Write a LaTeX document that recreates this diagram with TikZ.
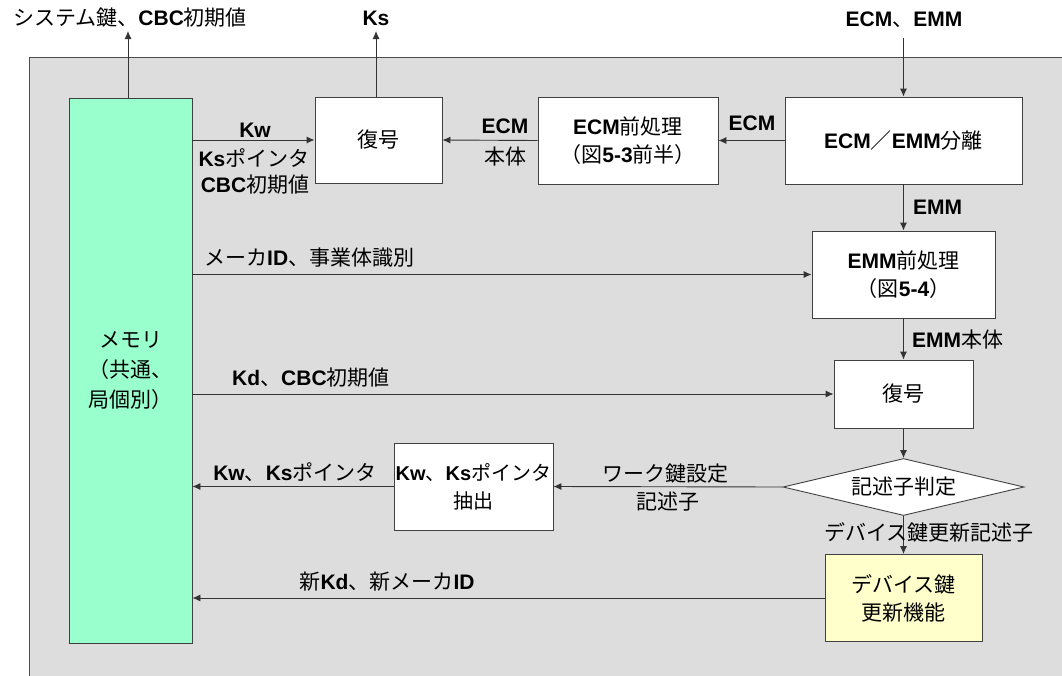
\documentclass[tikz,border=0pt]{standalone}
\usepackage{fontspec}
\setmainfont{Liberation Sans}
\newfontfamily\jpfont{Noto Sans CJK JP}
\usetikzlibrary{arrows.meta,shapes.geometric}
\newcommand\J[1]{{\jpfont\mdseries #1}}
\definecolor{bggray}{HTML}{DDDDDD}
\definecolor{memgreen}{HTML}{99FFCC}
\definecolor{devyellow}{HTML}{FFFFCC}
\begin{document}
\begin{tikzpicture}[x=1pt,y=-1pt,
  every node/.style={font=\fontsize{21}{28}\selectfont\bfseries},
  box/.style={draw=black!75, fill=white, line width=0.9pt, align=center, inner sep=0pt},
  ln/.style={draw=black!80, line width=0.9pt},
  arr/.style={ln, -{Latex[length=8pt,width=7pt]}},
  lbl/.style={inner sep=0pt, align=center}]
\useasboundingbox (0,0) rectangle (1062,675);
\begin{scope}
\clip (0,0) rectangle (1062,675);
\draw[fill=bggray, draw=black!70, line width=0.9pt] (29,57) rectangle (1080,700);
\end{scope}
% boxes
\node[box, fill=memgreen, minimum width=123pt, minimum height=545pt, font=\fontsize{21}{30}\selectfont] (mem) at (130.5,370.5) {\J{メモリ}\\\J{（共通、}\\\J{局個別）}};
\node[box, minimum width=127pt, minimum height=86pt] (dec1) at (378.5,140) {\J{復号}};
\node[box, minimum width=180pt, minimum height=87pt] (ecmpre) at (628,140.5) {ECM\J{前処理}\\\J{（図}5-3\J{前半）}};
\node[box, minimum width=237pt, minimum height=87pt] (sep) at (903.5,140.5) {ECM\J{／}EMM\J{分離}};
\node[box, minimum width=183pt, minimum height=87pt] (emmpre) at (903.5,274.5) {EMM\J{前処理}\\\J{（図}5-4\J{）}};
\node[box, minimum width=139pt, minimum height=68pt] (dec2) at (903.5,394) {\J{復号}};
\node[diamond, aspect=4.2, draw=black!75, fill=white, line width=0.9pt, minimum width=241pt, minimum height=57pt, inner sep=0pt] (judge) at (903.5,487) {\J{記述子判定}};
\node[box, minimum width=159pt, minimum height=87pt, font=\fontsize{20}{28}\selectfont\bfseries] (kwext) at (473.5,486.5) {Kw\J{、}Ks\J{ポインタ}\\\J{抽出}};
\node[box, fill=devyellow, minimum width=157pt, minimum height=87pt] (dev) at (903.5,598) {\J{デバイス鍵}\\\J{更新機能}};
% top outputs / input
\coordinate (sysout) at (128,31);
\draw[arr] (mem.north -| sysout) -- (sysout);
\node[lbl] (syslbl) at (130,18) {\J{システム鍵、}CBC\J{初期値}};
\coordinate (ksout) at (376,31);
\draw[arr] (dec1.north -| ksout) -- (ksout);
\node[lbl] (kslbl) at (376,18) {Ks};
\node[lbl] (inlbl) at (904,20) {ECM\J{、}EMM};
\coordinate (in) at (903.5,38);
\draw[arr] (in) -- (sep.north);
% ECM path
\draw[arr] (sep.west) -- (ecmpre.east);
\node[lbl] (l1) at (752,123) {ECM};
\draw[arr] (ecmpre.west) -- (dec1.east);
\node[lbl] (l2) at (505,126) {ECM};
\node[lbl] (l3) at (505,157) {\J{本体}};
\draw[arr] (mem.east |- dec1.west) -- (dec1.west);
\node[lbl] (l4) at (255,130) {Kw};
\node[lbl] (l5) at (254,158) {Ks\J{ポインタ}};
\node[lbl] (l6) at (255,185) {CBC\J{初期値}};
% EMM path
\draw[arr] (sep.south) -- (emmpre.north);
\node[lbl, anchor=west] (l7) at (913,207) {EMM};
\draw[arr] (mem.east |- emmpre.west) -- (emmpre.west);
\node[lbl, anchor=west] (l8) at (204,258) {\J{メーカ}ID\J{、事業体識別}};
\draw[arr] (emmpre.south) -- (dec2.north);
\node[lbl, anchor=west] (l9) at (912,340) {EMM\J{本体}};
\draw[arr] (mem.east |- dec2.west) -- (dec2.west);
\node[lbl, anchor=west] (l10) at (232,378) {Kd\J{、}CBC\J{初期値}};
\draw[arr] (dec2.south) -- (judge.north);
\draw[arr] (judge.west) -- (kwext.east);
\node[lbl] (l11) at (665,474) {\J{ワーク鍵設定}};
\node[lbl] (l12) at (668,502) {\J{記述子}};
\draw[arr] (kwext.west) -- (mem.east |- kwext.west);
\node[lbl] (l13) at (295,472) {Kw\J{、}Ks\J{ポインタ}};
\draw[arr] (judge.south) -- (dev.north);
\node[lbl] (l14) at (929,532) {\J{デバイス鍵更新記述子}};
\draw[arr] (dev.west) -- (mem.east |- dev.west);
\node[lbl] (l15) at (387,582) {\J{新}Kd\J{、新メーカ}ID};
\end{tikzpicture}
\end{document}
